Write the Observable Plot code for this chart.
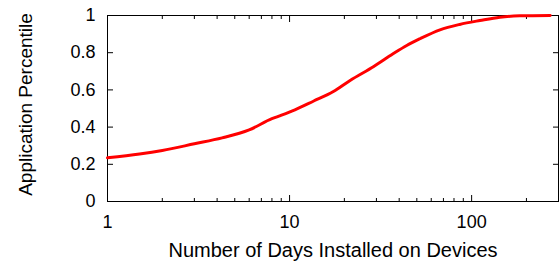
<!DOCTYPE html>
<html>
<head>
<meta charset="utf-8">
<script src="https://cdn.jsdelivr.net/npm/d3@7"></script>
<script src="https://cdn.jsdelivr.net/npm/@observablehq/plot@0.6"></script>
<style>
  html, body { margin: 0; padding: 0; background: #fff; }
  svg { display: block; }
</style>
</head>
<body>
<div id="chart"></div>
<script>
// Data (CDF of days installed)
const days = [1, 1.5, 2, 3, 4.26, 6, 8, 8.9, 10.7, 13.5, 17.4, 21.5, 29, 37, 44, 52, 67, 86, 111, 143, 184, 270];
const percentile = [0.235, 0.255, 0.274, 0.31, 0.342, 0.385, 0.445, 0.462, 0.493, 0.539, 0.591, 0.651, 0.726, 0.794, 0.839, 0.875, 0.923, 0.952, 0.973, 0.991, 0.998, 1.0];

const xMajorTicks = [1, 10, 100];
const xMinorTicks = [2, 3, 4, 5, 6, 7, 8, 9, 20, 30, 40, 50, 60, 70, 80, 90, 200, 300];
const yTicks = [0, 0.2, 0.4, 0.6, 0.8, 1];

const xTitle = "Number of Days Installed on Devices";
const yTitle = "Application Percentile";

const data = days.map((d, i) => ({days: d, pct: percentile[i]}));

const blank = () => "";

const chart = Plot.plot({
  width: 560,
  height: 263,
  marginLeft: 107,
  marginRight: 2,
  marginTop: 15,
  marginBottom: 62,
  style: {fontFamily: "'Liberation Sans', Arial, sans-serif", color: "#000", background: "#fff"},
  x: {type: "log", domain: [1, 300], label: null},
  y: {domain: [0, 1], label: null},
  marks: [
    // inward ticks, bottom & top (major)
    Plot.axisX({anchor: "bottom", ticks: xMajorTicks, tickSize: 6, dy: -6, tickFormat: blank, label: null}),
    Plot.axisX({anchor: "top", ticks: xMajorTicks, tickSize: 6, dy: 6, tickFormat: blank, label: null}),
    // inward ticks, bottom & top (minor)
    Plot.axisX({anchor: "bottom", ticks: xMinorTicks, tickSize: 3, dy: -3, tickFormat: blank, label: null}),
    Plot.axisX({anchor: "top", ticks: xMinorTicks, tickSize: 3, dy: 3, tickFormat: blank, label: null}),
    // inward ticks, left & right
    Plot.axisY({anchor: "left", ticks: yTicks, tickSize: 6, dx: 6, tickFormat: blank, label: null}),
    Plot.axisY({anchor: "right", ticks: yTicks, tickSize: 6, dx: -6, tickFormat: blank, label: null}),
    // tick labels
    Plot.axisX({anchor: "bottom", ticks: xMajorTicks, tickSize: 0, tickPadding: 14, tickFormat: d => String(d), fontSize: 18, label: null}),
    Plot.axisY({anchor: "left", ticks: yTicks, tickSize: 0, tickPadding: 12, tickFormat: d => String(d), fontSize: 18, label: null}),
    Plot.frame({stroke: "#000", strokeWidth: 1}),
    Plot.line(data, {x: "days", y: "pct", stroke: "#ff0000", strokeWidth: 3, curve: "monotone-x"}),
    // axis titles
    Plot.text([xTitle], {text: d => d, frameAnchor: "bottom", textAnchor: "middle", lineAnchor: "middle", dy: 49.5, fontSize: 20, fill: "#000"}),
    Plot.text([yTitle], {text: d => d, frameAnchor: "left", textAnchor: "middle", lineAnchor: "middle", rotate: -90, dx: -82, dy: -4, fontSize: 19, fill: "#000"})
  ]
});

document.getElementById("chart").appendChild(chart);
</script>
</body>
</html>
